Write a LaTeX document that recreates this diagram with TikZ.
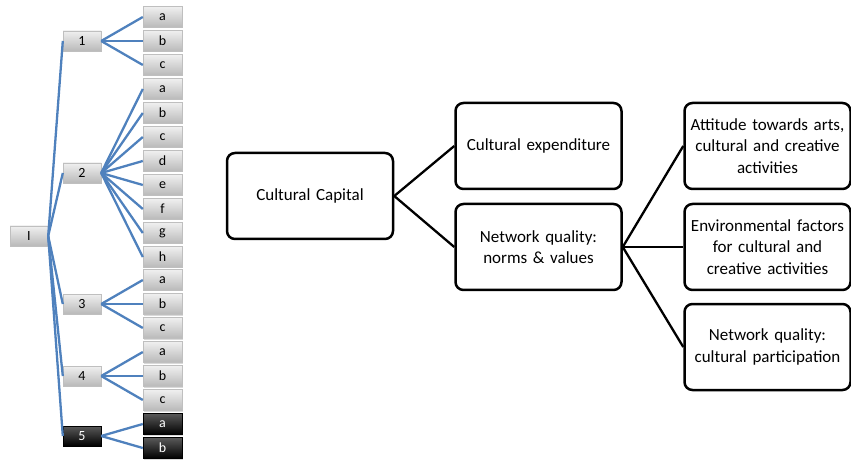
\documentclass[tikz,border=0pt]{standalone}
\usepackage{fontspec}
\setmainfont{Carlito}
\usetikzlibrary{shadows}

\definecolor{linkblue}{RGB}{79,129,189}

\begin{document}
\begin{tikzpicture}[x=1pt, y=-1pt,
	tbox/.style={rectangle, inner sep=0, minimum width=38, minimum height=20,
		top color=gray!12, bottom color=gray!55, draw=gray!50,
		drop shadow={shadow xshift=1pt, shadow yshift=-1pt, opacity=0.3},
		font=\fontsize{14}{15}\selectfont},
	tleaf/.style={tbox, minimum width=39, minimum height=21},
	tdark/.style={top color=black!65, bottom color=black, draw=black, text=white},
	tlink/.style={draw=linkblue, line width=2.3},
	cbox/.style={rectangle, rounded corners=8, draw, line width=2.5,
		minimum width=163, minimum height=86, text width=166, align=center,
		inner sep=0, font=\fontsize{17}{21.5}\selectfont},
	clink/.style={draw, line width=2.3}
]

% frame %{{{1

	\useasboundingbox (0,0) rectangle (851,462);

% tree, boxes %{{{1

	\node[tbox] (I) at (29,236) {I};

	\node[tbox] (L1) at (82,41) {1};
	\node[tbox] (L2) at (82,173) {2};
	\node[tbox] (L3) at (82,304) {3};
	\node[tbox] (L4) at (82,376) {4};
	\node[tbox, tdark] (L5) at (82,436) {5};

	\node[tleaf] (L1a) at (162.5,17) {a};
	\node[tleaf] (L1b) at (162.5,41) {b};
	\node[tleaf] (L1c) at (162.5,65) {c};

	\node[tleaf] (L2a) at (162.5,89) {a};
	\node[tleaf] (L2b) at (162.5,113) {b};
	\node[tleaf] (L2c) at (162.5,137) {c};
	\node[tleaf] (L2d) at (162.5,161) {d};
	\node[tleaf] (L2e) at (162.5,185) {e};
	\node[tleaf] (L2f) at (162.5,209) {f};
	\node[tleaf] (L2g) at (162.5,233) {g};
	\node[tleaf] (L2h) at (162.5,257) {h};

	\node[tleaf] (L3a) at (162.5,280) {a};
	\node[tleaf] (L3b) at (162.5,304) {b};
	\node[tleaf] (L3c) at (162.5,328) {c};

	\node[tleaf] (L4a) at (162.5,352) {a};
	\node[tleaf] (L4b) at (162.5,376) {b};
	\node[tleaf] (L4c) at (162.5,400) {c};

	\node[tleaf, tdark] (L5a) at (162.5,424) {a};
	\node[tleaf, tdark] (L5b) at (162.5,448) {b};

% tree, links %{{{1

	\draw[tlink] (I.east) -- (L1.west);
	\draw[tlink] (I.east) -- (L2.west);
	\draw[tlink] (I.east) -- (L3.west);
	\draw[tlink] (I.east) -- (L4.west);
	\draw[tlink] (I.east) -- (L5.west);

	\draw[tlink] (L1.east) -- (L1a.west);
	\draw[tlink] (L1.east) -- (L1b.west);
	\draw[tlink] (L1.east) -- (L1c.west);

	\draw[tlink] (L2.east) -- (L2a.west);
	\draw[tlink] (L2.east) -- (L2b.west);
	\draw[tlink] (L2.east) -- (L2c.west);
	\draw[tlink] (L2.east) -- (L2d.west);
	\draw[tlink] (L2.east) -- (L2e.west);
	\draw[tlink] (L2.east) -- (L2f.west);
	\draw[tlink] (L2.east) -- (L2g.west);
	\draw[tlink] (L2.east) -- (L2h.west);

	\draw[tlink] (L3.east) -- (L3a.west);
	\draw[tlink] (L3.east) -- (L3b.west);
	\draw[tlink] (L3.east) -- (L3c.west);

	\draw[tlink] (L4.east) -- (L4a.west);
	\draw[tlink] (L4.east) -- (L4b.west);
	\draw[tlink] (L4.east) -- (L4c.west);

	\draw[tlink] (L5.east) -- (L5a.west);
	\draw[tlink] (L5.east) -- (L5b.west);

% capital, boxes %{{{1

	\node[cbox] (cap) at (310,196) {Cultural Capital};

	\node[cbox] (expend) at (538.5,146) {Cultural expenditure};
	\node[cbox] (norms) at (538.5,247) {Network quality:\\norms \& values};

	\node[cbox] (attit) at (767.5,146) {Attitude towards arts,\\cultural and creative\\activities};
	\node[cbox] (envir) at (767.5,247) {Environmental factors\\for cultural and\\creative activities};
	\node[cbox] (partic) at (767.5,347) {Network quality:\\cultural participation};

% capital, links %{{{1

	\draw[clink] (cap.east) -- (expend.west);
	\draw[clink] (cap.east) -- (norms.west);

	\draw[clink] (norms.east) -- (attit.west);
	\draw[clink] (norms.east) -- (envir.west);
	\draw[clink] (norms.east) -- (partic.west);

% closing %{{{1

\end{tikzpicture}
\end{document}
